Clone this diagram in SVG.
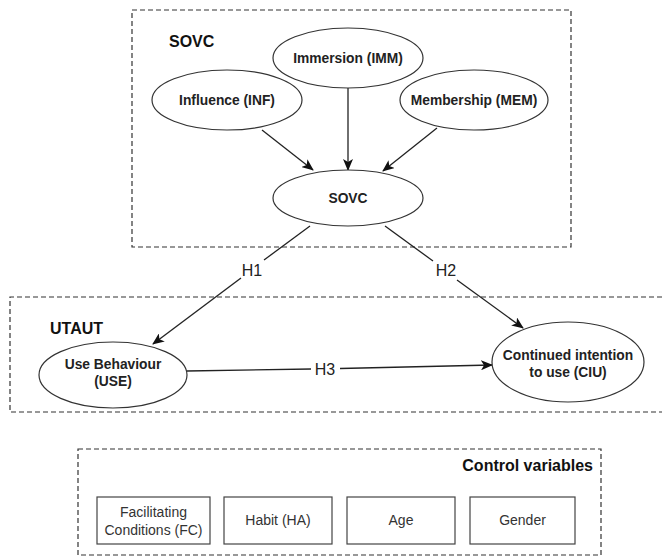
<svg xmlns="http://www.w3.org/2000/svg" width="662" height="558" viewBox="0 0 662 558">
<style>
.grp{fill:none;stroke:#333;stroke-width:1.2;stroke-dasharray:5 3}
.ell{fill:#fff;stroke:#333;stroke-width:1.2}
.box{fill:#fff;stroke:#444;stroke-width:1.2}
.lbl{font-family:"Liberation Sans",Arial,sans-serif;font-weight:bold;font-size:13.8px;fill:#222;text-anchor:middle}
.hdr{font-family:"Liberation Sans",Arial,sans-serif;font-weight:bold;font-size:16px;fill:#111}
.ctl{font-family:"Liberation Sans",Arial,sans-serif;font-size:14px;fill:#333;text-anchor:middle}
.hl{font-family:"Liberation Sans",Arial,sans-serif;font-size:16px;fill:#222;text-anchor:middle}
.edge{fill:none;stroke:#222;stroke-width:1.3}
</style>
<defs>
<marker id="arr" viewBox="0 0 12 10" refX="11" refY="5" markerWidth="12" markerHeight="10" markerUnits="userSpaceOnUse" orient="auto">
<path d="M0,0 L12,5 L0,10 L3,5 Z" fill="#111"/>
</marker>
</defs>
<rect width="662" height="558" fill="#fff"/>
<g id="group-sovc">
<rect class="grp" x="132" y="10" width="439" height="237"/>
<text class="hdr" x="169" y="47">SOVC</text>
</g>
<g id="group-utaut">
<path class="grp" d="M662,297 H10 V412 H662"/>
<text class="hdr" x="50" y="334">UTAUT</text>
</g>
<g id="group-control">
<rect class="grp" x="78" y="449" width="523" height="106"/>
<text class="hdr" x="593" y="471" text-anchor="end">Control variables</text>
</g>
<g id="connectors">
<line class="edge" x1="262" y1="130" x2="313" y2="170" marker-end="url(#arr)"/>
<line class="edge" x1="348" y1="88" x2="348" y2="170" marker-end="url(#arr)"/>
<line class="edge" x1="437" y1="128" x2="383" y2="171" marker-end="url(#arr)"/>
<line class="edge" x1="310" y1="226" x2="264" y2="260"/>
<line class="edge" x1="241" y1="278" x2="153" y2="344" marker-end="url(#arr)"/>
<line class="edge" x1="385" y1="226" x2="433" y2="261"/>
<line class="edge" x1="457" y1="280" x2="523" y2="328" marker-end="url(#arr)"/>
<line class="edge" x1="187" y1="371" x2="311" y2="369"/>
<line class="edge" x1="340" y1="368.5" x2="492" y2="365" marker-end="url(#arr)"/>
<text class="hl" x="252" y="276">H1</text>
<text class="hl" x="446" y="276">H2</text>
<text class="hl" x="325" y="375">H3</text>
</g>
<g id="node-imm">
<ellipse class="ell" cx="348" cy="58" rx="75" ry="30"/>
<text class="lbl" x="348" y="63">Immersion (IMM)</text>
</g>
<g id="node-inf">
<ellipse class="ell" cx="227" cy="100" rx="75" ry="30"/>
<text class="lbl" x="227" y="105">Influence (INF)</text>
</g>
<g id="node-mem">
<ellipse class="ell" cx="474" cy="100" rx="74" ry="30"/>
<text class="lbl" x="474" y="105">Membership (MEM)</text>
</g>
<g id="node-sovc">
<ellipse class="ell" cx="348" cy="198" rx="75" ry="28"/>
<text class="lbl" x="348" y="203">SOVC</text>
</g>
<g id="node-use">
<ellipse class="ell" cx="113" cy="375" rx="74" ry="33"/>
<text class="lbl" x="113" y="369">Use Behaviour</text>
<text class="lbl" x="113" y="386">(USE)</text>
</g>
<g id="node-ciu">
<ellipse class="ell" cx="568" cy="362" rx="76" ry="40"/>
<text class="lbl" x="568" y="360">Continued intention</text>
<text class="lbl" x="568" y="377">to use (CIU)</text>
</g>
<g id="node-fc">
<rect class="box" x="97" y="497" width="113" height="47"/>
<text class="ctl" x="153.5" y="517">Facilitating</text>
<text class="ctl" x="153.5" y="535">Conditions (FC)</text>
</g>
<g id="node-ha">
<rect class="box" x="224" y="497" width="108" height="47"/>
<text class="ctl" x="278" y="525">Habit (HA)</text>
</g>
<g id="node-age">
<rect class="box" x="347" y="497" width="108" height="47"/>
<text class="ctl" x="401" y="525">Age</text>
</g>
<g id="node-gender">
<rect class="box" x="470" y="497" width="105" height="47"/>
<text class="ctl" x="522.5" y="525">Gender</text>
</g>
</svg>
